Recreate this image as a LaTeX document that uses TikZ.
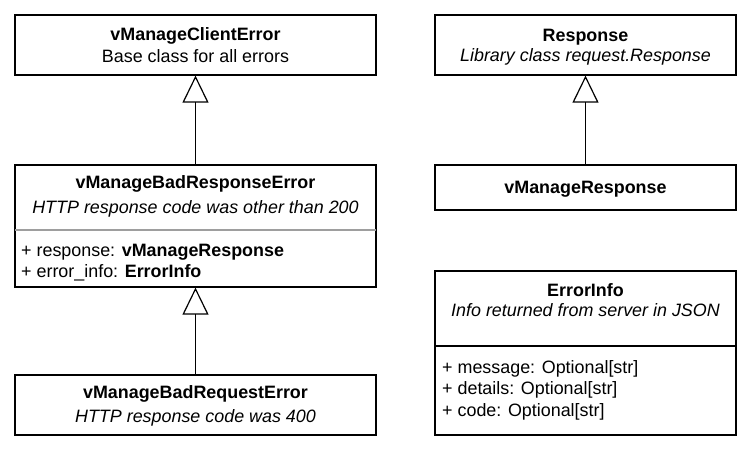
\documentclass[tikz,border=0pt]{standalone}
\usepackage{fontspec}
\setmainfont{Liberation Sans}
\usetikzlibrary{arrows.meta}
\begin{document}
\begin{tikzpicture}[x=1pt,y=-1pt,
  box/.style={draw=black, line width=1.2pt, fill=white, inner sep=0pt, shape=rectangle},
  txt/.style={inner sep=0pt, anchor=base, font=\fontsize{17.9}{21}\selectfont},
  attr/.style={txt, anchor=base west},
  gen/.style={line width=1.2pt, -{Triangle[open, length=27pt, width=26pt, line width=1.2pt]}},
  sep/.style={line width=1.2pt, draw=#1}
]
\useasboundingbox[fill=white] (0,0) rectangle (752,456);

% left column
\node[box, minimum width=361pt, minimum height=60pt] (client) at (195.5,45) {};
\node[txt] (clientT) at (195.5,40) {\bfseries vManageClientError};
\node[txt] (clientD) at (195.5,62) {Base class for all errors};

\node[box, minimum width=361pt, minimum height=122pt] (badresp) at (195.5,226) {};
\node[txt] (badrespT) at (195.5,188) {\bfseries vManageBadResponseError};
\node[txt] (badrespD) at (195.5,213) {\itshape HTTP response code was other than 200};
\coordinate (brL) at (15,230);
\coordinate (brR) at (376,230);
\draw[sep=black!38] (brL) -- (brR);
\node[attr] (badrespA1) at (21,256) {+ response: \textbf{vManageResponse}};
\node[attr] (badrespA2) at (21,277) {+ error\_info: \textbf{ErrorInfo}};

\node[box, minimum width=361pt, minimum height=60pt] (badreq) at (195.5,405) {};
\node[txt] (badreqT) at (195.5,398) {\bfseries vManageBadRequestError};
\node[txt] (badreqD) at (195.5,422) {\itshape HTTP response code was 400};

% right column
\node[box, minimum width=301pt, minimum height=60pt] (resp) at (585.5,45) {};
\node[txt] (respT) at (585.5,41) {\bfseries Response};
\node[txt] (respD) at (585.5,61) {\itshape Library class request.Response};

\node[box, minimum width=301pt, minimum height=45pt] (vresp) at (585.5,187.5) {};
\node[txt] (vrespT) at (585.5,193) {\bfseries vManageResponse};

\node[box, minimum width=301pt, minimum height=164pt] (errinfo) at (585.5,353) {};
\node[txt] (errinfoT) at (585.5,296) {\bfseries ErrorInfo};
\node[txt] (errinfoD) at (585.5,316) {\itshape Info returned from server in JSON};
\coordinate (eiL) at (435,346);
\coordinate (eiR) at (736,346);
\draw[sep=black] (eiL) -- (eiR);
\node[attr] (errinfoA1) at (442,373) {+ message: Optional[str]};
\node[attr] (errinfoA2) at (442,394) {+ details: Optional[str]};
\node[attr] (errinfoA3) at (442,416) {+ code: Optional[str]};

% generalisations
\draw[gen] (badresp.north) -- (client.south);
\draw[gen] (badreq.north) -- (badresp.south);
\draw[gen] (vresp.north) -- (resp.south);
\end{tikzpicture}
\end{document}
